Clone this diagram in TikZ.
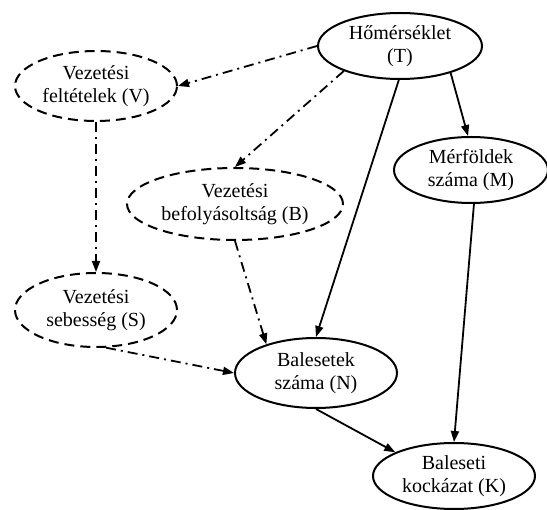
\documentclass[tikz,border=0pt]{standalone}
\usepackage{fontspec}
\setmainfont{Liberation Serif}
\usetikzlibrary{shapes.geometric,arrows.meta}
\tikzset{
  ell/.style={ellipse, draw, line width=2pt, inner sep=0pt, align=center,
    font=\fontsize{20}{23}\selectfont, minimum width=162pt, minimum height=70pt},
  dell/.style={ell, dash pattern=on 10pt off 6pt},
  solidarrow/.style={line width=1.8pt, -{Triangle[length=11pt,width=8pt]}},
  dotarrow/.style={solidarrow, dash pattern=on 10pt off 5pt on 2pt off 5pt}
}
\begin{document}
\begin{tikzpicture}[x=1pt,y=-1pt]
\useasboundingbox (0,0) rectangle (547,510);
\node[ell, minimum width=164pt, minimum height=66pt] (T) at (400,46) {Hőmérséklet\\(T)};
\node[dell] (V) at (96,86) {Vezetési\\feltételek (V)};
\node[ell, minimum width=154pt, minimum height=66pt] (M) at (471,170) {Mérföldek\\száma (M)};
\node[dell, minimum width=216pt, minimum height=72pt] (B) at (235,204) {Vezetési\\befolyásoltság (B)};
\node[dell, minimum height=74pt] (S) at (96,310) {Vezetési\\sebesség (S)};
\node[ell] (N) at (316,373) {Balesetek\\száma (N)};
\node[ell, minimum height=66pt] (K) at (454,476) {Baleseti\\kockázat (K)};

\draw[dotarrow] (T.west) -- (V.east);
\draw[dotarrow] (T.-156) -- (B.north);
\draw[dotarrow] (V.south) -- (S.north);
\draw[dotarrow] (B.south) -- (N.150);
\draw[dotarrow] (S.-75) -- (N.west);
\draw[solidarrow] (T.-92) -- (N.north);
\draw[solidarrow] (T.-28) -- (M.95);
\draw[solidarrow] (M.-85) -- (K.north);
\draw[solidarrow] (N.south) -- (K.158);
\end{tikzpicture}
\end{document}
